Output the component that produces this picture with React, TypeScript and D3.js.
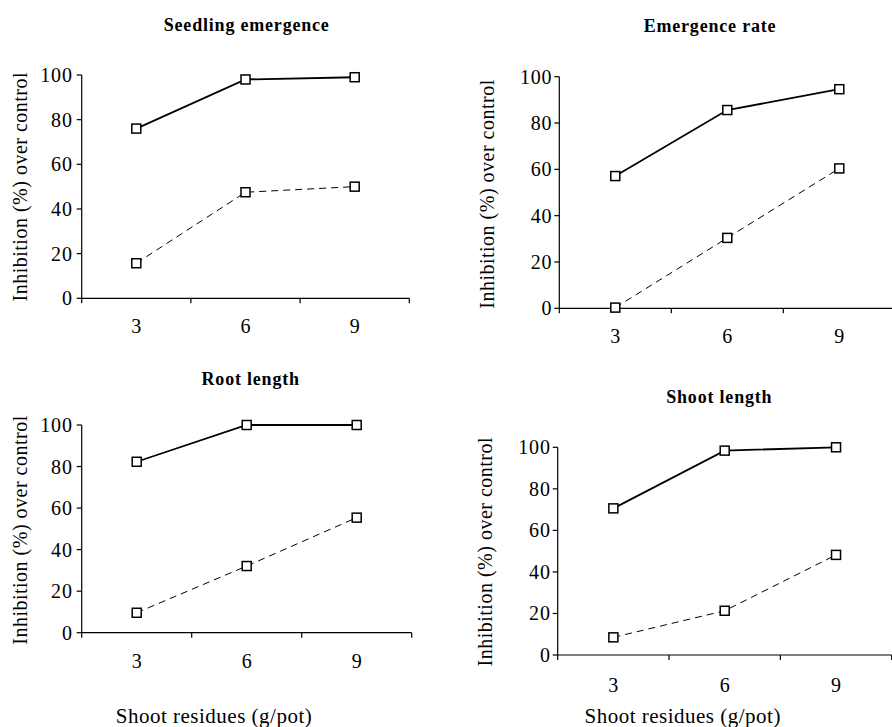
import React from "react";
import * as d3 from "d3";

const categories = ["3", "6", "9"];
const yTicks = [0, 20, 40, 60, 80, 100];

const titles = ["Seedling emergence", "Emergence rate", "Root length", "Shoot length"];

const seedlingSolid = [76, 98, 99];
const seedlingDashed = [15.7, 47.5, 50];
const rateSolid = [57.1, 85.6, 94.6];
const rateDashed = [0.3, 30.4, 60.4];
const rootSolid = [82.3, 100, 100];
const rootDashed = [9.6, 32.1, 55.4];
const shootSolid = [70.6, 98.4, 100];
const shootDashed = [8.5, 21.3, 48.2];

const yLabel = "Inhibition (%) over control";
const xLabel = "Shoot residues (g/pot)";

const layouts = [
  { x0: 81.7, x1: 409.3, yTop: 75, yBot: 298.3, tx: 246.7, ty: 31, lx: 20, ly: 186.7, tickY: 333, pad: 9, xt: null },
  { x0: 559.3, x1: 895.3, yTop: 76.7, yBot: 308.3, tx: 710, ty: 32, lx: 40.7 + 446, ly: 194, tickY: 343, pad: 7, xt: null },
  { x0: 81.7, x1: 411.7, yTop: 425, yBot: 632.7, tx: 250.7, ty: 385, lx: 20, ly: 530, tickY: 668, pad: 9, xt: { x: 214, y: 723 } },
  { x0: 557.7, x1: 891.7, yTop: 447.3, yBot: 655, tx: 719.3, ty: 403.3, lx: 485, ly: 551.7, tickY: 691.7, pad: 7, xt: { x: 682.7, y: 722.7 } },
];

const series = [
  [seedlingSolid, seedlingDashed],
  [rateSolid, rateDashed],
  [rootSolid, rootDashed],
  [shootSolid, shootDashed],
];

const FONT = "'Liberation Serif', 'Times New Roman', serif";

function Panel({ idx }: { idx: number }) {
  const L = layouts[idx];
  const [solid, dashed] = series[idx];
  const x = d3.scaleBand<string>().domain(categories).range([L.x0, L.x1]).padding(0);
  const y = d3.scaleLinear().domain([0, 100]).range([L.yBot, L.yTop]);
  const cx = (i: number) => (x(categories[i]) as number) + x.bandwidth() / 2;
  const line = d3
    .line<number>()
    .x((_, i) => cx(i))
    .y((d) => y(d));
  const boundaries = [...categories.map((c) => x(c) as number), L.x1];
  return (
    <g>
      <text x={L.tx} y={L.ty} textAnchor="middle" fontFamily={FONT} fontWeight="bold" fontSize={18} letterSpacing={0.8} fill="#000">
        {titles[idx]}
      </text>
      <text
        transform={`translate(${L.lx},${L.ly}) rotate(-90)`}
        textAnchor="middle"
        dominantBaseline="central"
        fontFamily={FONT}
        fontSize={20}
        letterSpacing={0.5}
        fill="#000"
      >
        {yLabel}
      </text>
      <line x1={L.x0} x2={L.x0} y1={L.yTop} y2={L.yBot} stroke="#000" strokeWidth={1.2} />
      {yTicks.map((t) => (
        <g key={t}>
          <line x1={L.x0 - 5} x2={L.x0} y1={y(t)} y2={y(t)} stroke="#000" strokeWidth={1.2} />
          <text x={L.x0 - L.pad} y={y(t)} dy="0.35em" textAnchor="end" fontFamily={FONT} fontSize={20} letterSpacing={0.8} fill="#000">
            {t}
          </text>
        </g>
      ))}
      <line x1={L.x0} x2={L.x1} y1={L.yBot} y2={L.yBot} stroke="#000" strokeWidth={1.2} />
      {boundaries.map((b, i) => (
        <line key={i} x1={b} x2={b} y1={L.yBot} y2={L.yBot + 5} stroke="#000" strokeWidth={1.2} />
      ))}
      {categories.map((c, i) => (
        <text key={c} x={cx(i)} y={L.tickY} textAnchor="middle" fontFamily={FONT} fontSize={20} fill="#000">
          {c}
        </text>
      ))}
      {L.xt && (
        <text x={L.xt.x} y={L.xt.y} textAnchor="middle" fontFamily={FONT} fontSize={21} letterSpacing={0.5} fill="#000">
          {xLabel}
        </text>
      )}
      <path d={line(solid) || ""} fill="none" stroke="#000" strokeWidth={1.8} />
      <path d={line(dashed) || ""} fill="none" stroke="#000" strokeWidth={1} strokeDasharray="7,5" />
      {[solid, dashed].map((s, si) =>
        s.map((v, i) => (
          <rect
            key={`${si}-${i}`}
            x={cx(i) - 4.5}
            y={y(v) - 4.5}
            width={9}
            height={9}
            fill="#fff"
            stroke="#000"
            strokeWidth={1.5}
          />
        ))
      )}
    </g>
  );
}

export default function App() {
  return (
    <svg
      width={892}
      height={727}
      style={{ position: "absolute", left: 0, top: 0, background: "#fff" }}
    >
      <rect width={892} height={727} fill="#fff" />
      {[0, 1, 2, 3].map((i) => (
        <Panel key={i} idx={i} />
      ))}
    </svg>
  );
}
